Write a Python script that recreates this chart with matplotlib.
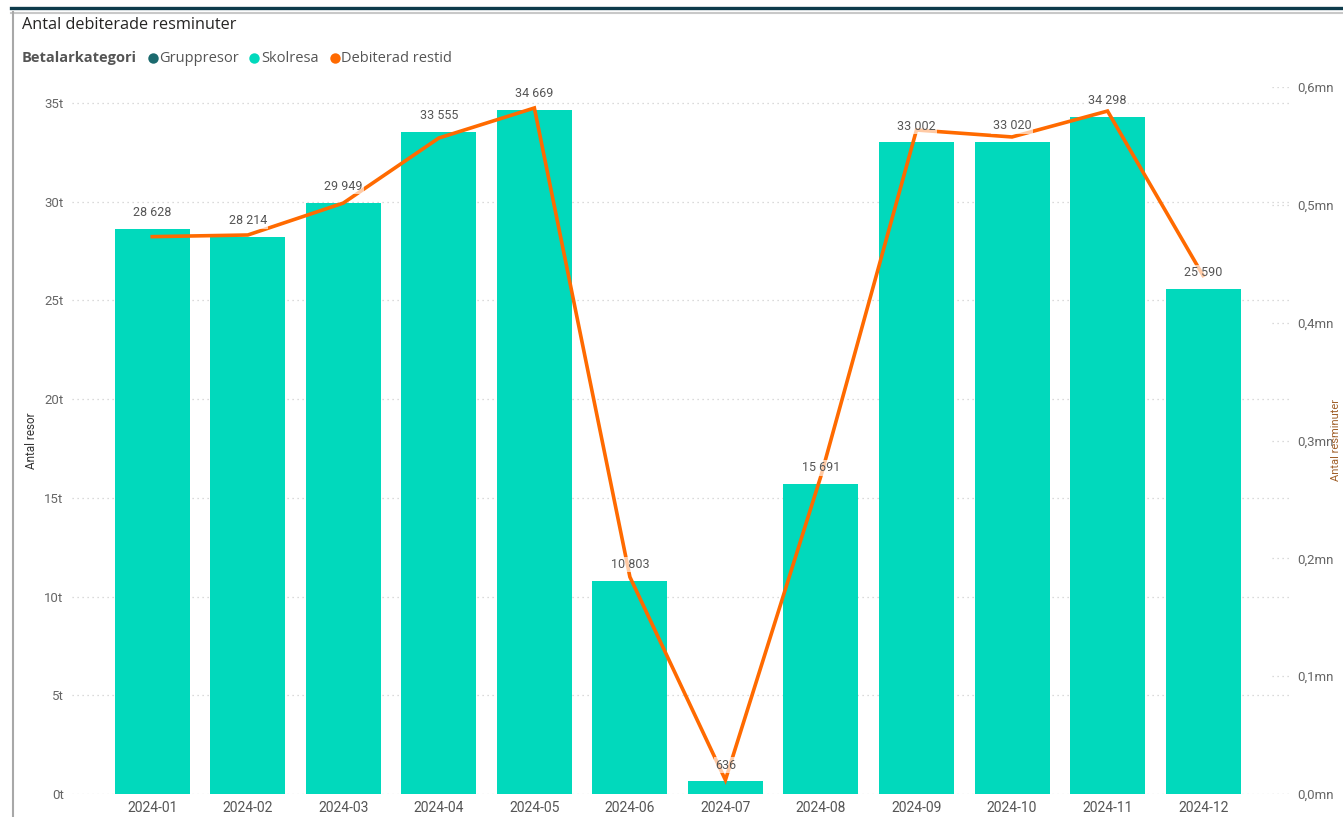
import matplotlib
matplotlib.use("Agg")
import matplotlib.pyplot as plt
from matplotlib.lines import Line2D
import numpy as np

# ---- data ----
months = ["2024-01", "2024-02", "2024-03", "2024-04", "2024-05", "2024-06",
          "2024-07", "2024-08", "2024-09", "2024-10", "2024-11", "2024-12"]
skolresa = [28628, 28214, 29949, 33555, 34669, 10803, 636, 15691, 33002, 33020, 34298, 25590]
restid = [473000, 474400, 501500, 556700, 582200, 184200, 11900, 269900, 563500, 557600, 579600, 440000]
left_ticks = [0, 5000, 10000, 15000, 20000, 25000, 30000, 35000]
left_labels = ["0t", "5t", "10t", "15t", "20t", "25t", "30t", "35t"]
right_ticks = [0, 100000, 200000, 300000, 400000, 500000, 600000]
right_labels = ["0,0mn", "0,1mn", "0,2mn", "0,3mn", "0,4mn", "0,5mn", "0,6mn"]

BAR = "#01D9BC"
LINE = "#FF6A00"
DARK = "#1B6A6E"
W, H = 1343, 817

plt.rcParams['font.family'] = ['Roboto', 'DejaVu Sans']

fig = plt.figure(figsize=(W / 100, H / 100), dpi=100)

def fx(px):
    return px / W

def fy(py):
    return 1 - py / H

ax_l, ax_r, ax_t, ax_b = 72, 1290, 87, 794
ax = fig.add_axes([fx(ax_l), fy(ax_b), (ax_r - ax_l) / W, (ax_b - ax_t) / H])
x = np.arange(len(months))
ax.bar(x, skolresa, width=0.785, color=BAR, zorder=2)
ax.set_xlim(-0.84, 11.91)
ax.set_ylim(0, 35000 * (ax_b - ax_t) / (794 - 103))
ax.set_yticks(left_ticks)
ax.set_yticklabels(left_labels)
ax.set_xticks(x)
ax.set_xticklabels(months)
for s in ax.spines.values():
    s.set_visible(False)
ax.tick_params(axis='both', length=0, colors='#666666', labelsize=9.5)
ax.tick_params(axis='y', pad=6)
ax.tick_params(axis='x', pad=5, labelsize=10, colors='#555555')
for t in left_ticks:
    ax.axhline(t, color='#CFCFCF', lw=0.9, ls=(0, (1, 3)), zorder=1)
ax.set_ylabel("Antal resor", fontsize=8.5, color='#333333')
ax.yaxis.set_label_coords((38 - ax_l) / (ax_r - ax_l), 0.5)

ax2 = ax.twinx()
ax2.set_ylim(0, 600000)
ax2.set_yticks(right_ticks)
ax2.set_yticklabels(right_labels)
for s in ax2.spines.values():
    s.set_visible(False)
ax2.tick_params(axis='y', length=0, colors='#666666', labelsize=9.5, pad=5)
for t in right_ticks:
    ax2.axhline(t, xmin=0.985, xmax=1.0, color='#CFCFCF', lw=0.9, ls=(0, (1, 3)), zorder=1)
ax2.plot(x, restid, color=LINE, lw=2.6, zorder=3, solid_joinstyle='miter')

# bar value labels (on top, semi-transparent background over line)
for xi, v in zip(x, skolresa):
    txt = f"{v:,}".replace(",", " ")
    ax2.annotate(txt, xy=(xi, v * 600000 / ax.get_ylim()[1]), xytext=(0, 7),
                 textcoords='offset points', ha='center', va='bottom',
                 fontsize=9, color='#555555', zorder=5,
                 bbox=dict(boxstyle='square,pad=0.1', fc='white', ec='none', alpha=0.65))

# right axis label (at the figure edge)
fig.text(fx(1336), fy(440), "Antal resminuter", rotation=90, ha='center', va='center',
         fontsize=8, color='#A0602A')

# frame lines
fig.add_artist(Line2D([fx(11), 1], [fy(8), fy(8)], color='#0E3B4B', lw=2.4))
fig.add_artist(Line2D([fx(11), 1], [fy(12.5), fy(12.5)], color='#C8C8C8', lw=1.5))
fig.add_artist(Line2D([fx(12.5), fx(12.5)], [fy(12), 0], color='#A8A8A8', lw=1.5))

# title
fig.text(fx(22), fy(25), "Antal debiterade resminuter", ha='left', va='center',
         fontsize=11.7, color='#252423', family=['Open Sans', 'DejaVu Sans'])

# legend
ly = fy(58)
fig.text(fx(22), ly, "Betalarkategori", ha='left', va='center', fontsize=10.5,
         fontweight='bold', color='#555555', family=['Open Sans', 'DejaVu Sans'])
for cx, tx, col, lab in [(153, 159, DARK, "Gruppresor"),
                         (254, 261, BAR, "Skolresa"),
                         (335, 341, LINE, "Debiterad restid")]:
    fig.add_artist(Line2D([fx(cx)], [ly], marker='o', markersize=7.5,
                          color=col, markeredgewidth=0, linestyle='none'))
    fig.text(fx(tx), ly, lab, ha='left', va='center', fontsize=10.5, color='#555555',
             family=['Open Sans', 'DejaVu Sans'])

fig.savefig("out.png", dpi=100)
